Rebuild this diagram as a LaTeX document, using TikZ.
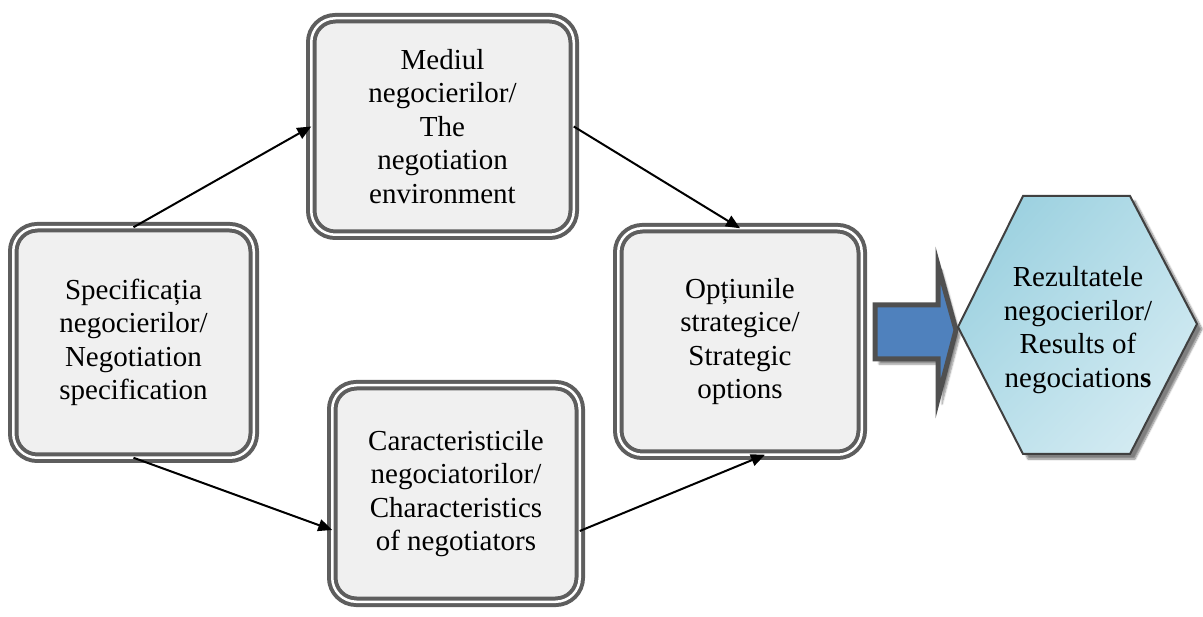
\documentclass[tikz,border=0pt]{standalone}
\usepackage{fontspec}
\setmainfont{Liberation Serif}
\usetikzlibrary{arrows.meta,shadows.blur,calc,shadings}
\definecolor{boxgray}{HTML}{5E5E5E}
\definecolor{boxfill}{HTML}{F0F0F0}
\definecolor{arrowblue}{HTML}{4F81BD}
\definecolor{arrowedge}{HTML}{505050}
\definecolor{hexA}{HTML}{92CCDC}
\definecolor{hexB}{HTML}{B9DFEA}
\definecolor{hexC}{HTML}{DDEFF5}
\begin{document}
\begin{tikzpicture}[x=1pt,y=-1pt,
  box/.style={draw=boxgray, line width=4pt, double=white, double distance=2.5pt,
    fill=boxfill, rounded corners=24pt, align=center, outer sep=0pt,
    font=\fontsize{29}{33.5}\selectfont},
  conn/.style={line width=2pt, -{Triangle[length=14pt,width=12pt]}},
  txt/.style={align=center, font=\fontsize{29}{33.5}\selectfont}]
\useasboundingbox (0,0) rectangle (1203,617);

\node[box, minimum width=240.5pt, minimum height=230.5pt] (b1) at (133.5,342.5)
  {Specificația\\negocierilor/\\Negotiation\\specification};
\node[box, minimum width=262.5pt, minimum height=216.5pt] (b2) at (442.5,126.5)
  {Mediul\\negocierilor/\\The\\negotiation\\environment};
\node[box, minimum width=247.5pt, minimum height=216.5pt] (b3) at (456,493.5)
  {Caracteristicile\\negociatorilor/\\Characteristics\\of negotiators};
\node[box, minimum width=243.5pt, minimum height=226.5pt] (b4) at (740,341.5)
  {Opțiunile\\strategice/\\Strategic\\options};

\coordinate (b3w) at ([yshift=-36.5pt]b3.west);
\coordinate (b3e) at ([yshift=-37.5pt]b3.east);
\coordinate (b4s) at ([xshift=25pt]b4.south);

\draw[conn] (b1.north) -- (b2.west);
\draw[conn] (b2.east) -- (b4.north);
\draw[conn] (b1.south) -- (b3w);
\draw[conn] (b3e) -- (b4s);

% block arrow
\coordinate (a1) at (875,305);
\coordinate (a2) at (938,305);
\coordinate (a3) at (938,265);
\coordinate (a4) at (956,330);
\coordinate (a5) at (938,399);
\coordinate (a6) at (938,359);
\coordinate (a7) at (875,359);
\path[fill=arrowblue, draw=arrowedge, line width=5pt, line join=miter,
  blur shadow={shadow xshift=4pt, shadow yshift=-5pt, shadow opacity=45, shadow blur steps=6}]
  (a1) -- (a2) -- (a3) -- (a4) -- (a5) -- (a6) -- (a7) -- cycle;

% hexagon
\coordinate (h1) at (958,327);
\coordinate (h2) at (1023,196);
\coordinate (h3) at (1130,196);
\coordinate (h4) at (1197,324);
\coordinate (h5) at (1130,454);
\coordinate (h6) at (1023,454);
\path[draw=black!75, line width=2pt, line join=miter,
  upper left=hexA, upper right=hexB, lower left=hexB, lower right=hexC,
  blur shadow={shadow xshift=5pt, shadow yshift=-5pt, shadow opacity=50, shadow blur steps=8}]
  (h1) -- (h2) -- (h3) -- (h4) -- (h5) -- (h6) -- cycle;
\node[txt] (hex) at (1078,330) {Rezultatele\\negocierilor/\\Results of\\negociation\textbf{s}};
\end{tikzpicture}
\end{document}
